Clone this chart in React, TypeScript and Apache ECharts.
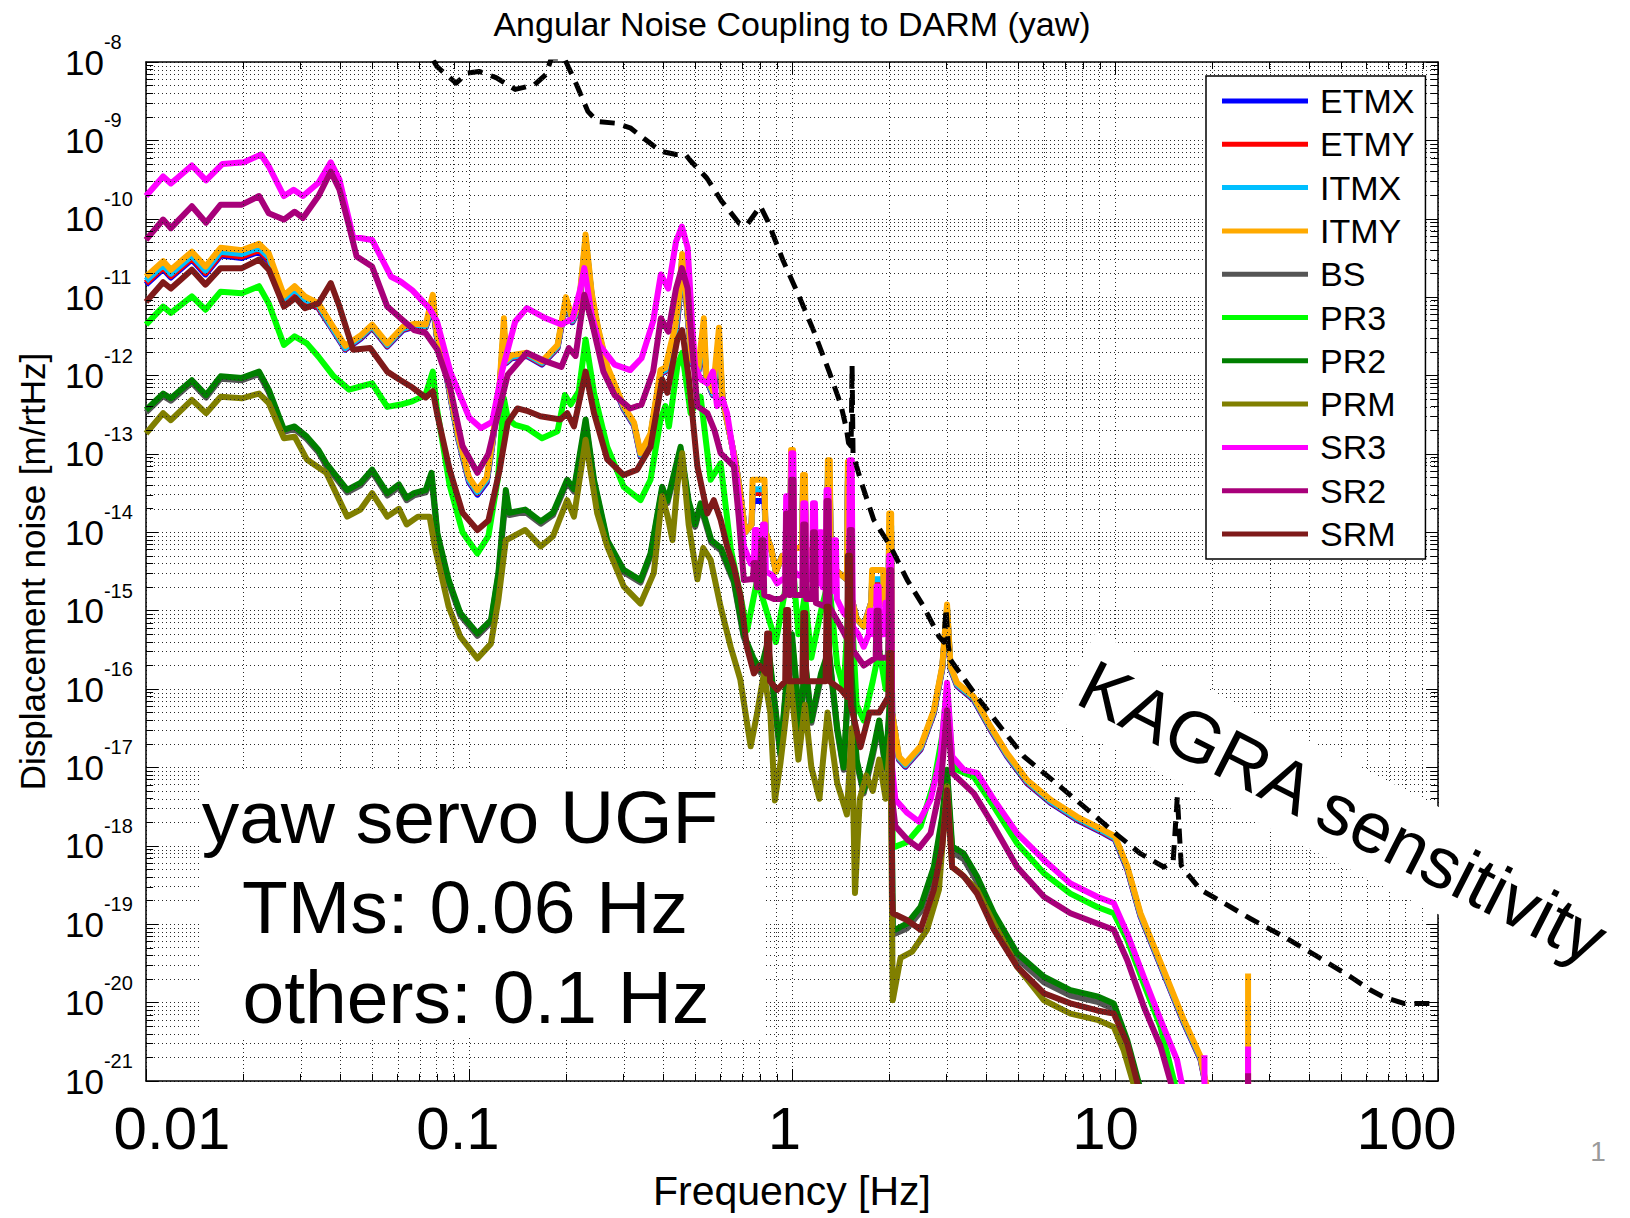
import React, { useEffect, useRef } from "react";
import * as echarts from "echarts";

// All curve points are [log10(frequency / Hz), log10(displacement / (m/rtHz))],
// read from the reference picture. null marks a gap in a line.
type Pt = [number, number] | null;

const ETMX: Pt[] = [[-2.000,-10.84],[-1.947,-10.64],[-1.923,-10.75],[-1.858,-10.52],[-1.816,-10.71],[-1.769,-10.47],[-1.703,-10.50],[-1.650,-10.42],[-1.620,-10.54],[-1.573,-11.06],[-1.540,-10.94],[-1.508,-11.06],[-1.466,-11.14],[-1.428,-11.38],[-1.383,-11.67],[-1.336,-11.53],[-1.300,-11.39],[-1.253,-11.63],[-1.205,-11.42],[-1.170,-11.38],[-1.134,-11.39],[-1.112,-11.10],[-1.100,-11.50],[-1.070,-12.00],[-1.034,-12.80],[-1.000,-13.36],[-0.974,-13.52],[-0.945,-13.36],[-0.930,-12.95],[-0.905,-12.15],[-0.892,-11.45],[-0.885,-11.84],[-0.868,-11.78],[-0.821,-11.75],[-0.774,-11.86],[-0.726,-11.65],[-0.700,-11.06],[-0.680,-11.32],[-0.660,-11.16],[-0.639,-10.30],[-0.620,-11.00],[-0.600,-11.44],[-0.572,-11.92],[-0.521,-12.43],[-0.489,-12.64],[-0.469,-13.03],[-0.438,-12.78],[-0.407,-11.98],[-0.392,-11.95],[-0.375,-11.70],[-0.361,-11.55],[-0.350,-11.10],[-0.340,-10.55],[-0.325,-11.15],[-0.310,-11.85],[-0.290,-11.95],[-0.273,-11.60],[-0.265,-12.05],[-0.245,-12.25],[-0.226,-11.75],[-0.215,-12.30],[-0.195,-12.70],[-0.175,-13.10],[-0.160,-13.50],[-0.145,-14.00],[-0.125,-13.90],[-0.122,-13.60],[-0.085,-13.60],[-0.082,-14.00],[-0.065,-14.20],[-0.050,-14.50],[-0.030,-14.30],[-0.006,-14.30],[-0.003,-13.25],[0.003,-13.25],[0.006,-14.20],[0.031,-14.20],[0.034,-13.60],[0.040,-13.60],[0.043,-14.20],[0.060,-14.30],[0.090,-14.40],[0.108,-14.40],[0.111,-13.40],[0.117,-13.40],[0.120,-14.40],[0.140,-14.50],[0.170,-14.60],[0.173,-13.40],[0.179,-13.40],[0.182,-14.80],[0.200,-15.10],[0.222,-15.20],[0.245,-14.90],[0.248,-14.70],[0.282,-14.70],[0.285,-14.90],[0.298,-15.00],[0.301,-14.10],[0.307,-14.10],[0.310,-16.30],[0.331,-16.90],[0.351,-16.99],[0.398,-16.77],[0.439,-16.31],[0.465,-15.75],[0.480,-15.00],[0.491,-15.75],[0.511,-15.96],[0.563,-16.14],[0.615,-16.52],[0.666,-16.86],[0.728,-17.20],[0.800,-17.45],[0.883,-17.67],[0.965,-17.84],[1.000,-17.92],[1.038,-18.30],[1.079,-18.90],[1.151,-19.63],[1.213,-20.26],[1.265,-20.73],[1.288,-21.20]];

const ETMY: Pt[] = [[-2.000,-10.82],[-1.947,-10.62],[-1.923,-10.73],[-1.858,-10.50],[-1.816,-10.69],[-1.769,-10.45],[-1.703,-10.48],[-1.650,-10.40],[-1.620,-10.52],[-1.573,-11.05],[-1.540,-10.93],[-1.508,-11.05],[-1.466,-11.13],[-1.428,-11.37],[-1.383,-11.66],[-1.336,-11.52],[-1.300,-11.38],[-1.253,-11.62],[-1.205,-11.41],[-1.170,-11.37],[-1.134,-11.38],[-1.112,-11.08],[-1.100,-11.49],[-1.070,-11.99],[-1.034,-12.79],[-1.000,-13.34],[-0.974,-13.50],[-0.945,-13.34],[-0.930,-12.94],[-0.905,-12.14],[-0.892,-11.43],[-0.885,-11.83],[-0.868,-11.77],[-0.821,-11.74],[-0.774,-11.85],[-0.726,-11.64],[-0.700,-11.05],[-0.680,-11.31],[-0.660,-11.15],[-0.639,-10.28],[-0.620,-10.99],[-0.600,-11.43],[-0.572,-11.91],[-0.521,-12.42],[-0.489,-12.63],[-0.469,-13.02],[-0.438,-12.77],[-0.407,-11.97],[-0.392,-11.94],[-0.375,-11.68],[-0.361,-11.52],[-0.350,-11.08],[-0.340,-10.53],[-0.325,-11.14],[-0.310,-11.84],[-0.290,-11.94],[-0.273,-11.53],[-0.265,-12.04],[-0.245,-12.24],[-0.226,-11.65],[-0.215,-12.30],[-0.195,-12.70],[-0.175,-13.10],[-0.160,-13.50],[-0.145,-14.00],[-0.125,-13.90],[-0.122,-13.50],[-0.085,-13.50],[-0.082,-14.00],[-0.065,-14.20],[-0.050,-14.50],[-0.030,-14.30],[-0.006,-14.30],[-0.003,-13.20],[0.003,-13.20],[0.006,-14.20],[0.031,-14.20],[0.034,-13.50],[0.040,-13.50],[0.043,-14.20],[0.060,-14.30],[0.090,-14.40],[0.108,-14.40],[0.111,-13.33],[0.117,-13.33],[0.120,-14.40],[0.140,-14.50],[0.170,-14.60],[0.173,-13.35],[0.179,-13.35],[0.182,-14.80],[0.200,-15.10],[0.222,-15.20],[0.245,-14.90],[0.248,-14.65],[0.282,-14.65],[0.285,-14.90],[0.298,-15.00],[0.301,-14.00],[0.307,-14.00],[0.310,-16.30],[0.331,-16.89],[0.351,-16.98],[0.398,-16.76],[0.439,-16.30],[0.465,-15.74],[0.480,-14.98],[0.491,-15.74],[0.511,-15.95],[0.563,-16.13],[0.615,-16.51],[0.666,-16.85],[0.728,-17.19],[0.800,-17.44],[0.883,-17.66],[0.965,-17.83],[1.000,-17.91],[1.038,-18.29],[1.079,-18.89],[1.151,-19.62],[1.213,-20.25],[1.265,-20.72],[1.288,-21.20]];

const ITMX: Pt[] = [[-2.000,-10.79],[-1.947,-10.59],[-1.923,-10.70],[-1.858,-10.47],[-1.816,-10.66],[-1.769,-10.42],[-1.703,-10.45],[-1.650,-10.37],[-1.620,-10.49],[-1.573,-11.02],[-1.540,-10.90],[-1.508,-11.03],[-1.466,-11.11],[-1.428,-11.36],[-1.383,-11.65],[-1.336,-11.51],[-1.300,-11.37],[-1.253,-11.61],[-1.205,-11.40],[-1.170,-11.36],[-1.134,-11.37],[-1.112,-11.05],[-1.100,-11.48],[-1.070,-11.98],[-1.034,-12.78],[-1.000,-13.33],[-0.974,-13.49],[-0.945,-13.33],[-0.930,-12.93],[-0.905,-12.13],[-0.892,-11.40],[-0.885,-11.82],[-0.868,-11.76],[-0.821,-11.73],[-0.774,-11.84],[-0.726,-11.63],[-0.700,-11.03],[-0.680,-11.30],[-0.660,-11.13],[-0.639,-10.25],[-0.620,-10.98],[-0.600,-11.42],[-0.572,-11.90],[-0.521,-12.41],[-0.489,-12.62],[-0.469,-13.01],[-0.438,-12.76],[-0.407,-11.96],[-0.392,-11.93],[-0.375,-11.65],[-0.361,-11.47],[-0.350,-11.05],[-0.340,-10.50],[-0.325,-11.13],[-0.310,-11.83],[-0.290,-11.93],[-0.273,-11.45],[-0.265,-12.03],[-0.245,-12.23],[-0.226,-11.55],[-0.215,-12.30],[-0.195,-12.70],[-0.175,-13.10],[-0.160,-13.50],[-0.145,-14.00],[-0.125,-13.90],[-0.122,-13.45],[-0.085,-13.45],[-0.082,-14.00],[-0.065,-14.20],[-0.050,-14.50],[-0.030,-14.30],[-0.006,-14.30],[-0.003,-13.10],[0.003,-13.10],[0.006,-14.20],[0.031,-14.20],[0.034,-13.42],[0.040,-13.42],[0.043,-14.20],[0.060,-14.30],[0.090,-14.40],[0.108,-14.40],[0.111,-13.23],[0.117,-13.23],[0.120,-14.40],[0.140,-14.50],[0.170,-14.60],[0.173,-13.25],[0.179,-13.25],[0.182,-14.80],[0.200,-15.10],[0.222,-15.20],[0.245,-14.90],[0.248,-14.60],[0.282,-14.60],[0.285,-14.90],[0.298,-15.00],[0.301,-13.92],[0.307,-13.92],[0.310,-16.30],[0.331,-16.88],[0.351,-16.97],[0.398,-16.75],[0.439,-16.29],[0.465,-15.73],[0.480,-14.96],[0.491,-15.73],[0.511,-15.94],[0.563,-16.12],[0.615,-16.50],[0.666,-16.84],[0.728,-17.18],[0.800,-17.43],[0.883,-17.65],[0.965,-17.82],[1.000,-17.90],[1.038,-18.28],[1.079,-18.88],[1.151,-19.61],[1.213,-20.24],[1.265,-20.71],[1.289,-21.20]];

const ITMY: Pt[] = [[-2.000,-10.74],[-1.947,-10.54],[-1.923,-10.65],[-1.858,-10.42],[-1.816,-10.61],[-1.769,-10.37],[-1.703,-10.40],[-1.650,-10.32],[-1.620,-10.44],[-1.573,-10.98],[-1.540,-10.86],[-1.508,-10.99],[-1.466,-11.08],[-1.428,-11.33],[-1.383,-11.62],[-1.336,-11.49],[-1.300,-11.35],[-1.253,-11.59],[-1.205,-11.38],[-1.170,-11.34],[-1.134,-11.35],[-1.112,-10.97],[-1.100,-11.46],[-1.070,-11.95],[-1.034,-12.75],[-1.000,-13.30],[-0.974,-13.46],[-0.945,-13.30],[-0.930,-12.90],[-0.905,-12.10],[-0.892,-11.27],[-0.885,-11.80],[-0.868,-11.74],[-0.821,-11.71],[-0.774,-11.82],[-0.726,-11.61],[-0.700,-11.00],[-0.680,-11.28],[-0.660,-11.10],[-0.639,-10.20],[-0.620,-10.95],[-0.600,-11.40],[-0.572,-11.88],[-0.521,-12.39],[-0.489,-12.60],[-0.469,-12.99],[-0.438,-12.74],[-0.407,-11.93],[-0.392,-11.90],[-0.375,-11.60],[-0.361,-11.37],[-0.350,-11.00],[-0.340,-10.45],[-0.325,-11.10],[-0.310,-11.80],[-0.290,-11.90],[-0.273,-11.27],[-0.265,-12.00],[-0.245,-12.20],[-0.226,-11.39],[-0.215,-12.30],[-0.195,-12.70],[-0.175,-13.10],[-0.160,-13.50],[-0.145,-14.00],[-0.125,-13.90],[-0.122,-13.33],[-0.085,-13.33],[-0.082,-14.00],[-0.065,-14.20],[-0.050,-14.50],[-0.030,-14.30],[-0.006,-14.30],[-0.003,-12.95],[0.003,-12.95],[0.006,-14.20],[0.031,-14.20],[0.034,-13.27],[0.040,-13.27],[0.043,-14.20],[0.060,-14.30],[0.090,-14.40],[0.108,-14.40],[0.111,-13.08],[0.117,-13.08],[0.120,-14.40],[0.140,-14.50],[0.170,-14.60],[0.173,-13.10],[0.179,-13.10],[0.182,-14.80],[0.200,-15.10],[0.222,-15.20],[0.245,-14.90],[0.248,-14.48],[0.282,-14.48],[0.285,-14.90],[0.298,-15.00],[0.301,-13.76],[0.307,-13.76],[0.310,-16.30],[0.331,-16.86],[0.351,-16.95],[0.398,-16.73],[0.439,-16.27],[0.465,-15.71],[0.480,-14.92],[0.491,-15.71],[0.511,-15.92],[0.563,-16.10],[0.615,-16.48],[0.666,-16.82],[0.728,-17.16],[0.800,-17.41],[0.883,-17.63],[0.965,-17.80],[1.000,-17.88],[1.038,-18.26],[1.079,-18.86],[1.151,-19.59],[1.213,-20.22],[1.265,-20.69],[1.290,-21.20],null,[1.412,-21.20],[1.412,-19.63]];

const BS: Pt[] = [[-2.000,-12.47],[-1.947,-12.26],[-1.923,-12.32],[-1.858,-12.09],[-1.814,-12.28],[-1.769,-12.04],[-1.703,-12.06],[-1.650,-11.98],[-1.620,-12.21],[-1.573,-12.72],[-1.540,-12.68],[-1.502,-12.81],[-1.466,-12.98],[-1.442,-13.15],[-1.377,-13.49],[-1.336,-13.40],[-1.300,-13.23],[-1.253,-13.53],[-1.217,-13.42],[-1.193,-13.59],[-1.170,-13.53],[-1.134,-13.49],[-1.116,-13.30],[-1.098,-14.04],[-1.063,-14.64],[-1.027,-15.06],[-0.974,-15.32],[-0.932,-15.15],[-0.909,-14.55],[-0.886,-13.55],[-0.875,-13.78],[-0.826,-13.74],[-0.778,-13.89],[-0.740,-13.78],[-0.696,-13.36],[-0.675,-13.48],[-0.639,-12.62],[-0.613,-13.36],[-0.572,-14.13],[-0.521,-14.51],[-0.469,-14.64],[-0.438,-14.30],[-0.402,-13.46],[-0.386,-13.63],[-0.345,-12.96],[-0.320,-13.63],[-0.300,-13.93],[-0.283,-13.67],[-0.250,-14.13],[-0.220,-14.23],[-0.180,-14.64],[-0.150,-15.33],[-0.120,-15.63],[-0.097,-15.79],[-0.075,-15.45],[-0.050,-16.33],[-0.036,-16.85],[-0.015,-15.85],[0.000,-15.40],[0.026,-16.55],[0.040,-15.65],[0.060,-16.43],[0.090,-15.85],[0.114,-15.55],[0.140,-16.53],[0.160,-17.03],[0.180,-15.55],[0.200,-16.93],[0.222,-17.33],[0.250,-16.85],[0.270,-16.45],[0.290,-17.03],[0.305,-16.10],[0.312,-19.10],[0.320,-19.12],[0.357,-19.05],[0.398,-18.84],[0.439,-18.33],[0.465,-17.70],[0.480,-17.10],[0.496,-18.08],[0.532,-18.17],[0.573,-18.46],[0.625,-18.93],[0.697,-19.44],[0.780,-19.74],[0.862,-19.91],[0.945,-19.99],[0.996,-20.08],[1.038,-20.55],[1.083,-21.20]];

const PR3: Pt[] = [[-2.000,-11.35],[-1.947,-11.12],[-1.923,-11.20],[-1.858,-10.99],[-1.816,-11.16],[-1.769,-10.93],[-1.703,-10.95],[-1.650,-10.86],[-1.620,-11.08],[-1.573,-11.61],[-1.540,-11.50],[-1.502,-11.59],[-1.466,-11.76],[-1.419,-12.01],[-1.371,-12.18],[-1.336,-12.14],[-1.300,-12.10],[-1.253,-12.40],[-1.212,-12.37],[-1.176,-12.33],[-1.135,-12.25],[-1.112,-11.95],[-1.100,-12.40],[-1.060,-13.40],[-1.020,-14.00],[-0.974,-14.27],[-0.940,-14.05],[-0.910,-13.30],[-0.892,-12.29],[-0.880,-12.55],[-0.857,-12.63],[-0.821,-12.67],[-0.774,-12.80],[-0.726,-12.71],[-0.703,-12.25],[-0.685,-12.37],[-0.660,-12.20],[-0.639,-11.54],[-0.613,-12.22],[-0.572,-12.91],[-0.521,-13.42],[-0.469,-13.59],[-0.438,-13.33],[-0.407,-12.56],[-0.392,-12.39],[-0.381,-12.65],[-0.355,-11.88],[-0.340,-11.71],[-0.314,-12.48],[-0.283,-12.27],[-0.252,-13.33],[-0.221,-13.12],[-0.190,-14.20],[-0.159,-14.82],[-0.139,-15.25],[-0.108,-14.61],[-0.077,-15.03],[-0.050,-15.40],[-0.015,-14.60],[0.000,-14.30],[0.020,-15.30],[0.040,-14.80],[0.060,-15.60],[0.090,-15.00],[0.114,-14.60],[0.140,-15.70],[0.160,-16.00],[0.180,-14.60],[0.200,-16.20],[0.222,-16.40],[0.250,-15.90],[0.270,-15.50],[0.290,-16.00],[0.305,-15.00],[0.312,-18.00],[0.320,-18.01],[0.357,-17.95],[0.398,-17.75],[0.439,-17.20],[0.465,-16.60],[0.480,-16.00],[0.496,-16.90],[0.511,-17.03],[0.563,-17.12],[0.625,-17.50],[0.697,-17.97],[0.780,-18.35],[0.862,-18.61],[0.945,-18.78],[0.996,-18.86],[1.038,-19.20],[1.089,-19.76],[1.141,-20.31],[1.195,-21.20]];

const PR2: Pt[] = [[-2.000,-12.44],[-1.947,-12.23],[-1.923,-12.29],[-1.858,-12.06],[-1.814,-12.25],[-1.769,-12.01],[-1.703,-12.03],[-1.650,-11.95],[-1.620,-12.18],[-1.573,-12.69],[-1.540,-12.65],[-1.502,-12.78],[-1.466,-12.95],[-1.442,-13.12],[-1.377,-13.46],[-1.336,-13.37],[-1.300,-13.20],[-1.253,-13.50],[-1.217,-13.39],[-1.193,-13.56],[-1.170,-13.50],[-1.134,-13.46],[-1.116,-13.24],[-1.098,-14.01],[-1.063,-14.61],[-1.027,-15.03],[-0.974,-15.29],[-0.932,-15.12],[-0.909,-14.52],[-0.886,-13.46],[-0.875,-13.75],[-0.826,-13.71],[-0.778,-13.86],[-0.740,-13.75],[-0.696,-13.33],[-0.675,-13.45],[-0.639,-12.56],[-0.613,-13.33],[-0.572,-14.10],[-0.521,-14.48],[-0.469,-14.61],[-0.438,-14.27],[-0.402,-13.42],[-0.386,-13.60],[-0.345,-12.91],[-0.320,-13.60],[-0.300,-13.90],[-0.283,-13.63],[-0.250,-14.10],[-0.220,-14.20],[-0.180,-14.61],[-0.150,-15.30],[-0.120,-15.60],[-0.097,-15.76],[-0.075,-15.40],[-0.050,-16.30],[-0.036,-16.82],[-0.015,-15.80],[0.000,-15.30],[0.026,-16.52],[0.040,-15.60],[0.060,-16.40],[0.090,-15.80],[0.114,-15.50],[0.140,-16.50],[0.160,-17.00],[0.180,-15.50],[0.200,-16.90],[0.222,-17.30],[0.250,-16.80],[0.270,-16.40],[0.290,-17.00],[0.305,-16.00],[0.312,-19.07],[0.320,-19.07],[0.357,-18.99],[0.398,-18.78],[0.439,-18.27],[0.465,-17.63],[0.480,-17.03],[0.496,-18.01],[0.532,-18.10],[0.573,-18.39],[0.625,-18.86],[0.697,-19.37],[0.780,-19.67],[0.862,-19.84],[0.945,-19.92],[0.996,-20.01],[1.038,-20.48],[1.085,-21.20]];

const PRM: Pt[] = [[-2.000,-12.74],[-1.947,-12.48],[-1.923,-12.57],[-1.858,-12.31],[-1.814,-12.48],[-1.769,-12.27],[-1.703,-12.29],[-1.650,-12.23],[-1.620,-12.35],[-1.573,-12.80],[-1.540,-12.78],[-1.502,-13.07],[-1.442,-13.24],[-1.377,-13.80],[-1.336,-13.71],[-1.300,-13.50],[-1.253,-13.80],[-1.217,-13.70],[-1.193,-13.90],[-1.158,-13.80],[-1.122,-13.80],[-1.105,-14.20],[-1.063,-14.95],[-1.027,-15.33],[-0.974,-15.61],[-0.932,-15.42],[-0.909,-14.86],[-0.886,-14.10],[-0.862,-14.05],[-0.826,-13.97],[-0.778,-14.18],[-0.740,-14.05],[-0.696,-13.59],[-0.675,-13.80],[-0.639,-12.82],[-0.603,-13.76],[-0.572,-14.18],[-0.521,-14.69],[-0.469,-14.91],[-0.428,-14.52],[-0.402,-13.54],[-0.385,-13.80],[-0.370,-14.10],[-0.355,-13.40],[-0.340,-12.99],[-0.320,-13.90],[-0.293,-14.60],[-0.275,-14.20],[-0.252,-14.35],[-0.221,-14.95],[-0.190,-15.46],[-0.160,-15.88],[-0.128,-16.73],[-0.108,-16.31],[-0.087,-15.80],[-0.067,-16.31],[-0.053,-17.42],[-0.036,-16.95],[-0.005,-15.88],[0.020,-16.90],[0.040,-16.20],[0.060,-17.00],[0.085,-17.40],[0.110,-16.30],[0.140,-17.20],[0.170,-17.60],[0.185,-16.50],[0.195,-18.60],[0.210,-17.40],[0.230,-17.10],[0.250,-17.30],[0.270,-16.90],[0.290,-17.40],[0.305,-16.60],[0.312,-19.97],[0.336,-19.43],[0.372,-19.35],[0.418,-19.07],[0.455,-18.56],[0.480,-17.24],[0.496,-18.27],[0.522,-18.35],[0.573,-18.56],[0.625,-18.99],[0.697,-19.54],[0.780,-19.97],[0.862,-20.14],[0.945,-20.22],[0.996,-20.31],[1.027,-20.61],[1.069,-21.20]];

const SR3: Pt[] = [[-2.000,-9.71],[-1.947,-9.46],[-1.923,-9.55],[-1.858,-9.32],[-1.814,-9.51],[-1.763,-9.30],[-1.697,-9.28],[-1.644,-9.18],[-1.620,-9.33],[-1.573,-9.71],[-1.543,-9.63],[-1.514,-9.71],[-1.466,-9.54],[-1.428,-9.28],[-1.401,-9.50],[-1.359,-10.23],[-1.300,-10.27],[-1.241,-10.74],[-1.212,-10.80],[-1.176,-10.91],[-1.123,-11.14],[-1.099,-11.31],[-1.058,-11.95],[-0.999,-12.54],[-0.963,-12.67],[-0.928,-12.59],[-0.898,-11.95],[-0.857,-11.31],[-0.821,-11.14],[-0.762,-11.27],[-0.714,-11.35],[-0.679,-11.27],[-0.655,-10.89],[-0.643,-10.63],[-0.620,-11.23],[-0.596,-11.61],[-0.549,-11.86],[-0.501,-11.93],[-0.466,-11.78],[-0.430,-11.31],[-0.406,-10.71],[-0.383,-10.89],[-0.359,-10.29],[-0.341,-10.10],[-0.323,-10.37],[-0.310,-11.30],[-0.300,-11.88],[-0.283,-12.05],[-0.262,-12.10],[-0.245,-11.95],[-0.232,-12.39],[-0.215,-12.30],[-0.201,-12.48],[-0.185,-12.90],[-0.170,-13.33],[-0.149,-14.18],[-0.128,-14.40],[-0.118,-14.40],[-0.115,-13.97],[-0.109,-13.97],[-0.106,-14.40],[-0.093,-14.45],[-0.090,-13.90],[-0.084,-13.90],[-0.081,-14.50],[-0.060,-14.55],[-0.046,-14.65],[-0.030,-14.60],[-0.021,-14.60],[-0.018,-13.54],[-0.012,-13.54],[-0.009,-14.50],[-0.004,-14.50],[-0.002,-12.99],[0.004,-12.99],[0.007,-14.50],[0.020,-14.55],[0.032,-14.55],[0.035,-13.63],[0.041,-13.63],[0.044,-14.60],[0.062,-14.60],[0.065,-13.63],[0.071,-13.63],[0.074,-14.60],[0.083,-14.65],[0.086,-14.00],[0.092,-14.00],[0.095,-14.70],[0.104,-14.70],[0.107,-13.46],[0.113,-13.46],[0.116,-14.70],[0.127,-14.75],[0.130,-14.10],[0.136,-14.10],[0.139,-14.85],[0.160,-15.03],[0.176,-15.10],[0.179,-13.08],[0.185,-13.08],[0.188,-15.20],[0.205,-15.30],[0.222,-15.46],[0.238,-15.30],[0.241,-15.00],[0.247,-15.00],[0.250,-15.30],[0.259,-15.30],[0.262,-14.69],[0.268,-14.69],[0.271,-15.30],[0.285,-15.30],[0.289,-14.90],[0.295,-14.90],[0.298,-15.20],[0.301,-14.30],[0.307,-14.30],[0.310,-17.00],[0.320,-17.41],[0.357,-17.58],[0.393,-17.69],[0.429,-17.41],[0.460,-16.86],[0.480,-15.92],[0.496,-16.86],[0.532,-17.03],[0.573,-17.07],[0.625,-17.41],[0.697,-17.84],[0.780,-18.18],[0.862,-18.48],[0.945,-18.65],[0.996,-18.73],[1.038,-19.12],[1.089,-19.67],[1.141,-20.22],[1.192,-20.73],[1.215,-21.20],null,[1.277,-21.20],[1.277,-20.67],null,[1.412,-21.20],[1.412,-20.56]];

const SR2: Pt[] = [[-2.000,-10.27],[-1.947,-10.01],[-1.923,-10.12],[-1.858,-9.84],[-1.814,-10.05],[-1.769,-9.82],[-1.703,-9.82],[-1.650,-9.71],[-1.620,-9.93],[-1.573,-10.01],[-1.540,-9.91],[-1.514,-9.99],[-1.466,-9.71],[-1.428,-9.40],[-1.401,-9.63],[-1.371,-10.10],[-1.348,-10.48],[-1.300,-10.61],[-1.253,-11.12],[-1.217,-11.25],[-1.170,-11.42],[-1.134,-11.46],[-1.098,-11.67],[-1.058,-12.16],[-1.020,-12.90],[-0.974,-13.24],[-0.940,-13.00],[-0.916,-12.59],[-0.880,-11.99],[-0.821,-11.71],[-0.762,-11.82],[-0.714,-11.89],[-0.691,-11.65],[-0.670,-11.75],[-0.643,-10.97],[-0.620,-11.31],[-0.584,-11.95],[-0.549,-12.25],[-0.501,-12.42],[-0.466,-12.37],[-0.430,-11.95],[-0.406,-11.27],[-0.383,-11.44],[-0.359,-10.89],[-0.341,-10.63],[-0.323,-10.89],[-0.310,-11.60],[-0.293,-12.39],[-0.262,-12.48],[-0.240,-12.70],[-0.221,-12.99],[-0.180,-13.16],[-0.165,-13.80],[-0.149,-14.61],[-0.130,-14.60],[-0.121,-14.60],[-0.118,-14.39],[-0.112,-14.39],[-0.109,-14.70],[-0.100,-14.70],[-0.095,-14.10],[-0.089,-14.10],[-0.086,-14.80],[-0.056,-14.85],[-0.035,-14.85],[-0.021,-14.80],[-0.018,-13.76],[-0.012,-13.76],[-0.009,-14.80],[-0.004,-14.80],[-0.002,-13.33],[0.004,-13.33],[0.007,-14.80],[0.032,-14.80],[0.035,-13.90],[0.041,-13.90],[0.044,-14.85],[0.062,-14.85],[0.065,-14.00],[0.071,-14.00],[0.074,-14.90],[0.104,-14.95],[0.107,-13.60],[0.113,-13.60],[0.116,-14.95],[0.150,-15.20],[0.176,-15.40],[0.179,-13.97],[0.185,-13.97],[0.188,-15.50],[0.222,-15.70],[0.259,-15.60],[0.262,-15.00],[0.268,-15.00],[0.271,-15.60],[0.298,-15.60],[0.301,-14.48],[0.307,-14.48],[0.310,-17.40],[0.320,-17.75],[0.357,-17.92],[0.393,-18.03],[0.429,-17.84],[0.460,-17.24],[0.480,-16.27],[0.496,-17.07],[0.563,-17.33],[0.625,-17.75],[0.697,-18.27],[0.780,-18.65],[0.862,-18.86],[0.945,-18.99],[0.996,-19.07],[1.038,-19.46],[1.089,-20.05],[1.141,-20.56],[1.185,-21.20],null,[1.412,-21.20],[1.412,-20.90]];

const SRM: Pt[] = [[-2.000,-11.06],[-1.947,-10.81],[-1.923,-10.89],[-1.858,-10.65],[-1.816,-10.84],[-1.769,-10.63],[-1.703,-10.63],[-1.650,-10.52],[-1.620,-10.65],[-1.573,-11.12],[-1.537,-11.01],[-1.508,-11.14],[-1.466,-11.08],[-1.428,-10.82],[-1.401,-11.12],[-1.359,-11.67],[-1.306,-11.65],[-1.253,-11.95],[-1.212,-12.06],[-1.176,-12.15],[-1.134,-12.28],[-1.112,-12.20],[-1.098,-12.50],[-1.060,-13.20],[-1.020,-13.75],[-0.974,-13.97],[-0.940,-13.85],[-0.905,-13.20],[-0.880,-12.60],[-0.850,-12.42],[-0.821,-12.45],[-0.779,-12.52],[-0.717,-12.56],[-0.696,-12.48],[-0.675,-12.65],[-0.639,-11.95],[-0.613,-12.48],[-0.572,-13.07],[-0.521,-13.27],[-0.479,-13.20],[-0.438,-12.91],[-0.402,-12.05],[-0.386,-12.22],[-0.355,-11.54],[-0.340,-11.42],[-0.319,-12.05],[-0.293,-13.16],[-0.262,-13.76],[-0.242,-13.59],[-0.221,-13.84],[-0.201,-14.18],[-0.180,-14.44],[-0.159,-14.82],[-0.140,-15.46],[-0.118,-15.80],[-0.100,-15.70],[-0.080,-15.80],[-0.077,-15.29],[-0.071,-15.29],[-0.068,-15.90],[-0.046,-16.01],[-0.021,-15.90],[-0.018,-14.99],[-0.012,-14.99],[-0.009,-15.90],[0.006,-15.90],[0.032,-15.90],[0.035,-15.03],[0.041,-15.03],[0.044,-15.90],[0.080,-15.90],[0.104,-15.90],[0.107,-14.95],[0.113,-14.95],[0.116,-15.90],[0.150,-16.00],[0.170,-16.10],[0.173,-14.30],[0.179,-14.30],[0.182,-16.20],[0.212,-16.74],[0.240,-16.30],[0.270,-16.30],[0.298,-16.10],[0.301,-15.54],[0.307,-15.54],[0.310,-18.60],[0.312,-18.86],[0.357,-18.95],[0.398,-19.07],[0.439,-18.56],[0.465,-18.01],[0.480,-17.29],[0.496,-18.27],[0.532,-18.39],[0.573,-18.61],[0.625,-19.07],[0.697,-19.54],[0.780,-19.88],[0.862,-20.01],[0.945,-20.10],[0.996,-20.14],[1.038,-20.52],[1.080,-21.20]];

const KAGRA: Pt[] = [[-1.110,-7.98],[-1.099,-8.06],[-1.040,-8.27],[-1.005,-8.14],[-0.969,-8.12],[-0.916,-8.20],[-0.857,-8.35],[-0.797,-8.29],[-0.762,-8.16],[-0.745,-7.95],[-0.705,-7.95],[-0.667,-8.29],[-0.632,-8.63],[-0.602,-8.76],[-0.548,-8.78],[-0.501,-8.84],[-0.454,-8.99],[-0.406,-9.14],[-0.359,-9.18],[-0.330,-9.18],[-0.312,-9.27],[-0.264,-9.48],[-0.217,-9.78],[-0.163,-10.06],[-0.140,-10.08],[-0.098,-9.84],[-0.075,-10.03],[-0.027,-10.54],[0.020,-10.97],[0.068,-11.44],[0.115,-11.95],[0.151,-12.37],[0.168,-12.67],[0.175,-12.86],[0.183,-12.90],[0.186,-11.87],[0.189,-13.00],[0.212,-13.33],[0.253,-13.84],[0.305,-14.18],[0.357,-14.61],[0.408,-14.95],[0.455,-15.33],[0.470,-15.40],[0.477,-14.97],[0.484,-15.45],[0.491,-15.63],[0.573,-16.10],[0.645,-16.48],[0.718,-16.86],[0.800,-17.14],[0.904,-17.50],[1.007,-17.86],[1.079,-18.10],[1.151,-18.27],[1.180,-18.20],[1.193,-17.37],[1.205,-18.25],[1.223,-18.35],[1.265,-18.56],[1.337,-18.73],[1.420,-18.93],[1.523,-19.16],[1.626,-19.41],[1.729,-19.67],[1.791,-19.84],[1.832,-19.93],[1.894,-20.01],[2.000,-20.01]];

const seriesNames = ["ETMX", "ETMY", "ITMX", "ITMY", "BS", "PR3", "PR2", "PRM", "SR3", "SR2", "SRM"];
const seriesData = [ETMX, ETMY, ITMX, ITMY, BS, PR3, PR2, PRM, SR3, SR2, SRM];
const seriesColors = ["#0000ff", "#ff0000", "#00bfff", "#ffaa00", "#555555", "#00ff00", "#007f00", "#807f00", "#ff00ff", "#a8007a", "#7f1a1a"];

const xTickLabels = ["0.01", "0.1", "1", "10", "100"]; // decades -2 .. 2
const yTickExponents = [-21, -20, -19, -18, -17, -16, -15, -14, -13, -12, -11, -10, -9, -8];

const FONT = "'Liberation Sans', Arial, Helvetica, sans-serif";

export default function App() {
  const ref = useRef<HTMLDivElement>(null);

  useEffect(() => {
    if (!ref.current) return;
    const chart = echarts.init(ref.current, undefined, { renderer: "svg" });

    const X0 = -2, X1 = 2, Y0 = yTickExponents[0], Y1 = yTickExponents[yTickExponents.length - 1];
    const minorX: number[] = [];
    for (let n = X0; n < X1; n++) for (let k = 2; k <= 9; k++) minorX.push(n + Math.log10(k));
    const minorY: number[] = [];
    for (let n = Y0; n < Y1; n++) for (let k = 2; k <= 9; k++) minorY.push(n + Math.log10(k));

    const gridStyle = { color: "#2a2a2a", width: 1, type: [1, 3] as any };
    const tickLenX = 0.022; // decades
    const tickLenY = 0.09;
    const minorTickSegs: any[] = [];
    minorY.forEach((v) => {
      minorTickSegs.push([{ coord: [X0, v] }, { coord: [X0 + tickLenX, v] }]);
      minorTickSegs.push([{ coord: [X1 - tickLenX, v] }, { coord: [X1, v] }]);
    });
    minorX.forEach((v) => {
      minorTickSegs.push([{ coord: [v, Y0] }, { coord: [v, Y0 + tickLenY] }]);
      minorTickSegs.push([{ coord: [v, Y1 - tickLenY] }, { coord: [v, Y1] }]);
    });

    const toData = (arr: Pt[]) => arr.map((p) => (p === null ? ["-", "-"] : p));

    const lineSeries: any[] = seriesNames.map((name, i) => ({
      type: "line",
      name,
      data: toData(seriesData[i]),
      showSymbol: false,
      symbol: "none",
      connectNulls: false,
      clip: true,
      z: 3,
      lineStyle: { width: 6, color: seriesColors[i], join: "round", cap: "butt" },
      itemStyle: { color: seriesColors[i] },
      emphasis: { disabled: true },
      animation: false,
    }));

    const xLabelRich: any = {};
    const xPads = [[0, 0, 0, 52], [0, 22, 0, 0], [0, 15, 0, 0], [0, 19, 0, 0], [0, 63, 0, 0]];
    xPads.forEach((p, i) => {
      xLabelRich["t" + i] = { fontSize: 60, lineHeight: 60, color: "#000", fontFamily: FONT, padding: p };
    });

    const option: any = {
      animation: false,
      backgroundColor: "#ffffff",
      textStyle: { fontFamily: FONT },
      grid: { left: 146, top: 62, width: 1292, height: 1019, containLabel: false },
      legend: {
        data: seriesNames,
        orient: "vertical",
        left: 1206,
        top: 76,
        padding: [8, 11, 8, 16],
        itemWidth: 86,
        itemHeight: 5,
        itemGap: 9.3,
        icon: "rect",
        backgroundColor: "#ffffff",
        borderColor: "#000000",
        borderWidth: 1.5,
        borderRadius: 0,
        selectedMode: false,
        z: 10,
        textStyle: { fontSize: 34, lineHeight: 34, color: "#000", fontFamily: FONT, padding: [0, 0, 0, 7] },
      },
      xAxis: [
        {
          type: "value",
          min: X0,
          max: X1,
          interval: 1,
          position: "bottom",
          name: "Frequency [Hz]",
          nameLocation: "middle",
          nameGap: 89,
          nameTextStyle: { fontSize: 41, lineHeight: 41, color: "#000", fontFamily: FONT },
          axisLine: { show: true, onZero: false, lineStyle: { color: "#000", width: 1.5 } },
          axisTick: { show: true, inside: true, length: 12, lineStyle: { color: "#000", width: 1 } },
          axisLabel: {
            margin: 17,
            fontSize: 60,
            formatter: (v: number) => {
              const i = Math.round(v) - X0;
              return `{t${i}|${xTickLabels[i]}}`;
            },
            rich: xLabelRich,
          },
          splitLine: { show: true, lineStyle: gridStyle },
        },
        {
          type: "value",
          min: X0,
          max: X1,
          interval: 1,
          position: "top",
          axisLine: { show: true, onZero: false, lineStyle: { color: "#000", width: 1.5 } },
          axisTick: { show: true, inside: true, length: 12, lineStyle: { color: "#000", width: 1 } },
          axisLabel: { show: false },
          splitLine: { show: false },
        },
      ],
      yAxis: [
        {
          type: "value",
          min: Y0,
          max: Y1,
          interval: 1,
          position: "left",
          name: "Displacement noise [m/rtHz]",
          nameLocation: "middle",
          nameRotate: 90,
          nameGap: 96,
          nameTextStyle: { fontSize: 35, lineHeight: 35, color: "#000", fontFamily: FONT },
          axisLine: { show: true, onZero: false, lineStyle: { color: "#000", width: 1.5 } },
          axisTick: { show: true, inside: true, length: 12, lineStyle: { color: "#000", width: 1 } },
          axisLabel: {
            margin: 81,
            align: "left",
            fontSize: 35,
            formatter: (v: number) => {
              const e = yTickExponents.find((t) => t === Math.round(v));
              return `{b|10}{s|${e}}`;
            },
            rich: {
              b: { fontSize: 35, lineHeight: 60, color: "#000", fontFamily: FONT },
              s: { fontSize: 20, lineHeight: 20, color: "#000", fontFamily: FONT, verticalAlign: "top" },
            },
          },
          splitLine: { show: true, lineStyle: gridStyle },
        },
        {
          type: "value",
          min: Y0,
          max: Y1,
          interval: 1,
          position: "right",
          axisLine: { show: true, onZero: false, lineStyle: { color: "#000", width: 1.5 } },
          axisTick: { show: true, inside: true, length: 12, lineStyle: { color: "#000", width: 1 } },
          axisLabel: { show: false },
          splitLine: { show: false },
        },
      ],
      series: [
        {
          type: "line",
          name: "minor grid",
          data: [[X0, Y0]],
          showSymbol: false,
          symbol: "none",
          lineStyle: { opacity: 0 },
          silent: true,
          z: 1,
          markLine: {
            silent: true,
            symbol: ["none", "none"],
            label: { show: false },
            emphasis: { disabled: true },
            animation: false,
            lineStyle: gridStyle,
            data: [...minorX.map((v) => ({ xAxis: v })), ...minorY.map((v) => ({ yAxis: v }))],
          },
        },
        {
          type: "line",
          name: "minor ticks",
          data: [[X0, Y0]],
          showSymbol: false,
          symbol: "none",
          lineStyle: { opacity: 0 },
          silent: true,
          z: 1,
          markLine: {
            silent: true,
            symbol: ["none", "none"],
            label: { show: false },
            emphasis: { disabled: true },
            animation: false,
            lineStyle: { color: "#000", width: 1, type: "solid" },
            data: minorTickSegs,
          },
        },
        ...lineSeries,
        {
          type: "line",
          name: "KAGRA sensitivity",
          data: toData(KAGRA),
          showSymbol: false,
          symbol: "none",
          clip: true,
          z: 4,
          lineStyle: { width: 5, color: "#000", type: [15, 9], join: "round" },
          emphasis: { disabled: true },
          animation: false,
        },
      ],
      graphic: [
        {
          type: "text",
          x: 792,
          y: 24,
          style: { text: "Angular Noise Coupling to DARM (yaw)", font: `34px ${FONT}`, fill: "#000", align: "center", verticalAlign: "middle" },
        },
        { type: "rect", shape: { x: 201, y: 770, width: 562, height: 267 }, style: { fill: "#ffffff" }, z: 50 },
        {
          type: "text", x: 460, y: 817, z: 51,
          style: { text: "yaw servo UGF", font: `75px ${FONT}`, fill: "#000", align: "center", verticalAlign: "middle" },
        },
        {
          type: "text", x: 465, y: 907, z: 51,
          style: { text: "TMs: 0.06 Hz", font: `75px ${FONT}`, fill: "#000", align: "center", verticalAlign: "middle" },
        },
        {
          type: "text", x: 476, y: 997, z: 51,
          style: { text: "others: 0.1 Hz", font: `75px ${FONT}`, fill: "#000", align: "center", verticalAlign: "middle" },
        },
        {
          type: "text", x: 1343, y: 812, z: 51, rotation: -27 * Math.PI / 180,
          style: {
            text: "KAGRA sensitivity", font: `72px ${FONT}`, fill: "#000", align: "center", verticalAlign: "middle",
            backgroundColor: "#ffffff", padding: [12, 10, 12, 10],
          },
        },
        {
          type: "text", x: 1598, y: 1151,
          style: { text: "1", font: `28px ${FONT}`, fill: "#9a9a9a", align: "center", verticalAlign: "middle" },
        },
      ],
    };

    chart.setOption(option);
    return () => chart.dispose();
  }, []);

  return (
    <div
      ref={ref}
      style={{ position: "absolute", left: 0, top: 0, width: 1630, height: 1218, background: "#fff" }}
    />
  );
}
